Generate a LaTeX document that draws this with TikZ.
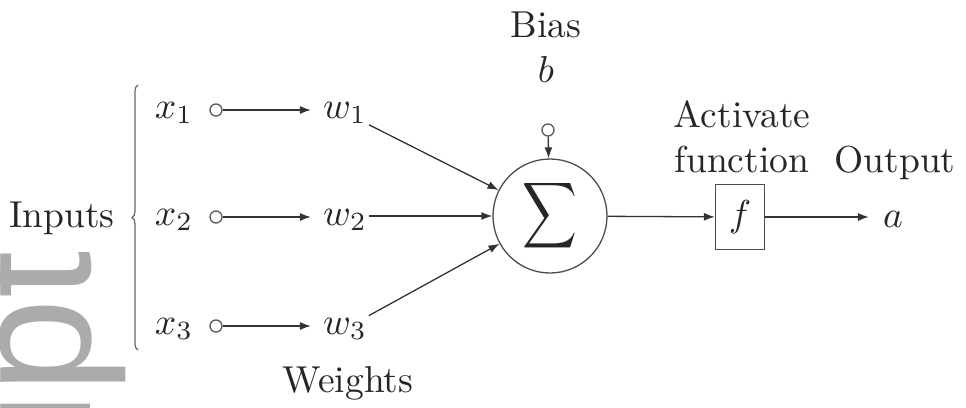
\documentclass[tikz,border=0pt]{standalone}
\usepackage{fontspec}
\newfontfamily\wmfont{Liberation Sans}
\usetikzlibrary{arrows.meta,decorations.pathreplacing}
\definecolor{wmgray}{HTML}{ABABAB}
\newcommand\mth[1]{\scalebox{3.75}{\normalsize$#1$}}
\newcommand\txt[1]{\scalebox{3.75}{\normalsize #1}}
\begin{document}
\begin{tikzpicture}[x=1pt,y=-1pt,
  every node/.style={text=black!85},
  lbl/.style={inner sep=2pt, anchor=base},
  dot/.style={circle, draw=black!65, line width=1.3pt, minimum size=12pt, inner sep=0pt},
  conn/.style={draw=black!80, line width=1.3pt, -{Latex[length=11pt,width=8pt]}},
  sumnode/.style={circle, draw=black!70, line width=1.3pt, minimum size=114pt, inner sep=0pt},
  fbox/.style={draw=black!70, line width=1.3pt, minimum width=49pt, minimum height=65pt, inner sep=0pt},
  wm/.style={font=\wmfont\fontsize{170}{170}\selectfont, text=wmgray, inner sep=0pt, rotate=90, anchor=base west}
]
\useasboundingbox (0,0) rectangle (966,407);
% watermark
\node[wm] (wmark) at (90,431) {ipt};
% inputs
\node[lbl] (inputs) at (62,227) {\txt{Inputs}};
\node[lbl] (x1) at (174,118) {\mth{x_1}};
\node[lbl] (x2) at (174,225) {\mth{x_2}};
\node[lbl] (x3) at (174,334) {\mth{x_3}};
\node[dot] (d1) at (216,110) {};
\node[dot] (d2) at (216,217) {};
\node[dot] (d3) at (216,326) {};
\node[lbl] (w1) at (345,118) {\mth{w_1}};
\node[lbl] (w2) at (345,225) {\mth{w_2}};
\node[lbl] (w3) at (345,334) {\mth{w_3}};
\node[lbl] (weights) at (348,392) {\txt{Weights}};
\coordinate (brb) at (138,350);
\coordinate (brt) at (138,85);
\draw[black!60, line width=1.2pt, decorate, decoration={brace, amplitude=6pt}] (brb) -- (brt);
% sum
\node[sumnode] (sigma) at (550,216) {\scalebox{3.8}[4.6]{\normalsize$\displaystyle\sum$}};
\node[lbl] (bias) at (546,37) {\txt{Bias}};
\node[lbl] (b) at (546,82) {\mth{b}};
\node[dot] (bd) at (548,130) {};
% activation
\node[fbox] (f) at (740,217) {\mth{f}};
\node[lbl] (act) at (742,127) {\txt{Activate}};
\node[lbl] (fun) at (742,172) {\txt{function}};
\node[lbl] (out) at (895,172) {\txt{Output}};
\node[lbl] (a) at (893,227) {\mth{a}};
% connectors
\draw[conn, shorten >=10pt] (d1) -- (d1 -| w1.west);
\draw[conn, shorten >=10pt] (d2) -- (d2 -| w2.west);
\draw[conn, shorten >=10pt] (d3) -- (d3 -| w3.west);
\draw[conn] (w1) -- (sigma);
\draw[conn] (w2.east |- sigma) -- (sigma);
\draw[conn] (w3) -- (sigma);
\draw[conn] (bd) -- (sigma);
\draw[conn] (sigma) -- (f);
\draw[conn, shorten >=12pt] (f) -- (f -| a.west);
\end{tikzpicture}
\end{document}
